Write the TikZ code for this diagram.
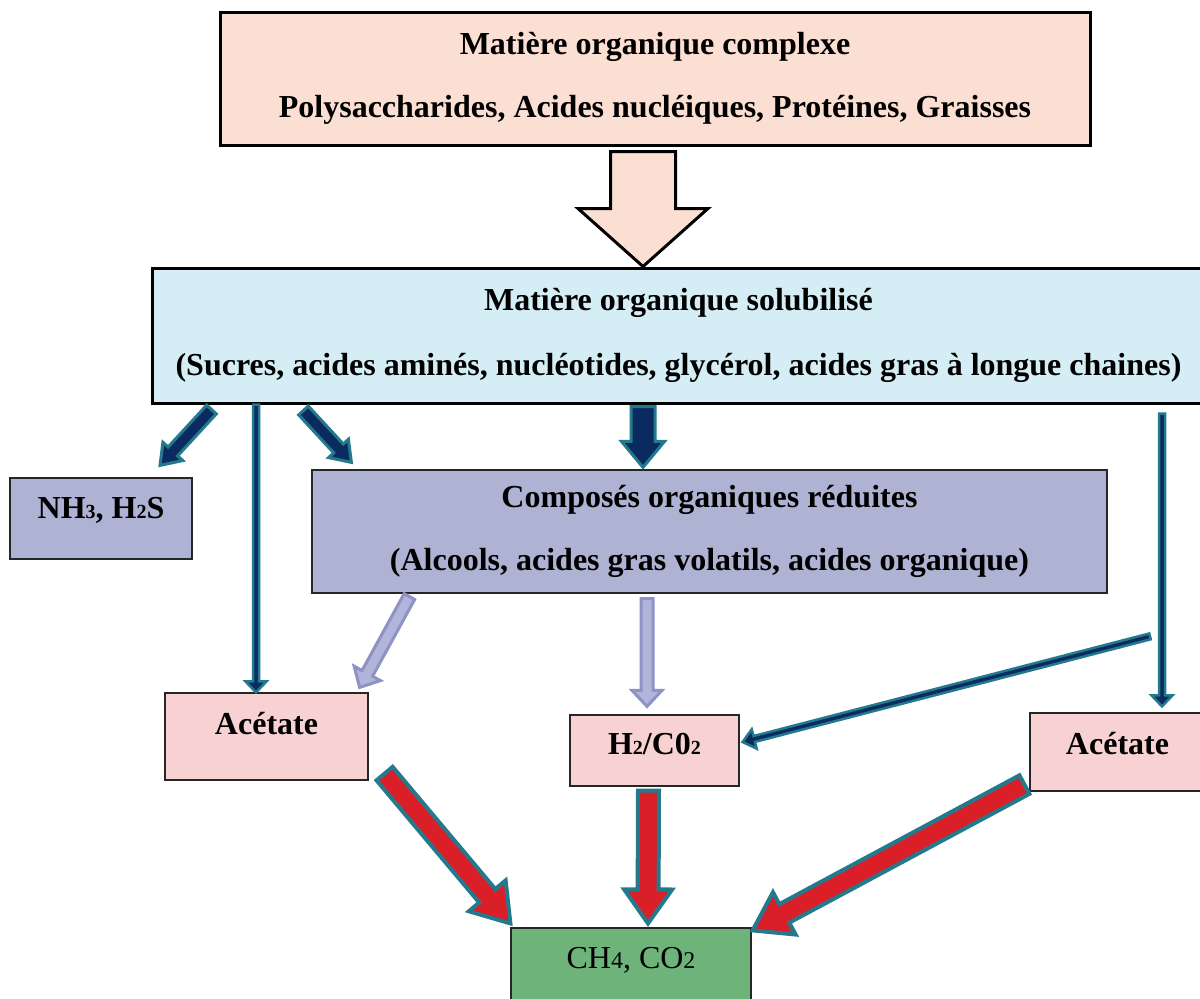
\documentclass[tikz,border=0pt]{standalone}
\usepackage{fontspec}
\setmainfont{Liberation Serif}
\usetikzlibrary{calc}

\definecolor{peach}{RGB}{251,223,210}
\definecolor{skyfill}{RGB}{213,238,245}
\definecolor{lavender}{RGB}{174,178,211}
\definecolor{rosefill}{RGB}{248,210,211}
\definecolor{gasgreen}{RGB}{109,179,122}
\definecolor{navy}{RGB}{11,42,96}
\definecolor{tealedge}{RGB}{35,122,140}
\definecolor{lilac}{RGB}{178,181,218}
\definecolor{lilacedge}{RGB}{142,146,196}
\definecolor{arrowred}{RGB}{218,31,40}

% small digits on the baseline (as in the original)
\newcommand\ind[1]{{\fontsize{20}{20}\selectfont #1}}

% block arrow: style, tail, tip, shaft half width, head half width, head length
\newcommand\blockarrow[6]{%
  \coordinate (hb) at ($(#3)!#6pt!(#2)$);
  \draw[#1] ($(#2)!#4pt!90:(#3)$) -- ($(hb)!#4pt!90:(#3)$) -- ($(hb)!#5pt!90:(#3)$)
    -- (#3) -- ($(hb)!#5pt!-90:(#3)$) -- ($(hb)!#4pt!-90:(#3)$) -- ($(#2)!#4pt!-90:(#3)$) -- cycle;
}

\begin{document}
\begin{tikzpicture}[
  x=1pt, y=-1pt,
  box/.style={draw=black!85, line width=1.2pt, inner sep=0pt, align=center,
    font=\bfseries\fontsize{32}{38}\selectfont},
  bigbox/.style={box, draw=black, line width=3pt},
  onebox/.style={box, text height=22pt},
  navyarrow/.style={draw=tealedge, fill=navy, line width=3pt, line join=miter},
  thinarrow/.style={draw=tealedge, fill=navy, line width=2.5pt, line join=miter},
  lilacarrow/.style={draw=lilacedge, fill=lilac, line width=3pt, line join=miter},
  redarrow/.style={draw=tealedge, fill=arrowred, line width=4pt, line join=miter}
]
\useasboundingbox (0,0) rectangle (1200,999);

% Boxes
\node[bigbox, fill=peach, minimum width=870, minimum height=133] (complexe) at (655,78.5)
  {Matière organique complexe\\[25pt] Polysaccharides, Acides nucléiques, Protéines, Graisses};
\node[bigbox, fill=skyfill, minimum width=1053, minimum height=135] (soluble) at (678.5,335.5)
  {Matière organique solubilisé\\[27pt] (Sucres, acides aminés, nucléotides, glycérol, acides gras à longue chaines)};
\node[onebox, fill=lavender, minimum width=182, minimum height=81, text depth=23pt] (gaz) at (101,518.5)
  {NH\ind{3}, H\ind{2}S};
\node[box, fill=lavender, minimum width=795, minimum height=123] (reduits) at (709.5,531.5)
  {Composés organiques réduites\\[25pt] (Alcools, acides gras volatils, acides organique)};
\node[onebox, fill=rosefill, minimum width=203, minimum height=87, text depth=27pt] (acetateA) at (266.5,736.5)
  {Acétate};
\node[onebox, fill=rosefill, minimum width=169, minimum height=71, text depth=14pt] (hydro) at (654.5,750.5)
  {H\ind{2}/C0\ind{2}};
\node[onebox, fill=rosefill, minimum width=175, minimum height=78, text depth=17pt] (acetateB) at (1117.5,752)
  {Acétate};
\node[onebox, fill=gasgreen, minimum width=240, minimum height=82, text depth=23pt,
  font=\fontsize{32}{38}\selectfont] (biogaz) at (631,969)
  {CH{\fontsize{24}{24}\selectfont 4}, CO{\fontsize{24}{24}\selectfont 2}};

% Hollow arrow between the two top boxes
\coordinate (hollowtail) at ($(complexe.south)+(-12,5)$);
\coordinate (hollowtip) at ($(soluble.north)+(-35.5,0)$);
\blockarrow{draw=black, fill=peach, line width=3pt, line join=miter}{hollowtail}{hollowtip}{32.5}{65}{58}

% Arrows leaving the solubilised matter
\coordinate (t1) at ($(soluble.south west)+(61,5)$);
\coordinate (h1) at ($(gaz.north)+(59,-12)$);
\blockarrow{navyarrow}{t1}{h1}{6.5}{13.5}{19}

\coordinate (h2) at ($(acetateA.north)+(-10.5,0)$);
\coordinate (t2) at (h2 |- soluble.south);
\blockarrow{thinarrow}{t2}{h2}{3}{10.5}{11}

\coordinate (t3) at ($(soluble.south west)+(153,6)$);
\coordinate (h3) at ($(reduits.north west)+(40,-7)$);
\blockarrow{navyarrow}{t3}{h3}{6.5}{13.5}{19}

\coordinate (h4) at ($(reduits.north)+(-66.5,-2)$);
\coordinate (t4) at ($(h4 |- soluble.south)+(0,2)$);
\blockarrow{navyarrow}{t4}{h4}{12}{21.5}{26}

\coordinate (h5) at ($(acetateB.north)+(44.5,-6)$);
\coordinate (t5) at ($(h5 |- soluble.south)+(0,9)$);
\blockarrow{thinarrow}{t5}{h5}{3}{10.5}{11}

\coordinate (t6) at ($(h5)+(-12,-70)$);
\coordinate (h6) at ($(hydro.east)+(3,-8.5)$);
\blockarrow{thinarrow}{t6}{h6}{3}{10}{12}

% Arrows leaving the reduced compounds
\coordinate (t7) at ($(reduits.south west)+(98,3)$);
\coordinate (h7) at ($(acetateA.north east)+(-9,-5)$);
\blockarrow{lilacarrow}{t7}{h7}{6}{15}{16}

\coordinate (h8) at ($(hydro.north)+(-7.5,-8)$);
\coordinate (t8) at ($(h8 |- reduits.south)+(0,5)$);
\blockarrow{lilacarrow}{t8}{h8}{6}{15}{16}

% Methanogenesis
\coordinate (t9) at ($(acetateA.south east)+(16,-7)$);
\coordinate (h9) at ($(biogaz.north west)+(0,-4)$);
\blockarrow{redarrow}{t9}{h9}{10.5}{24}{36}

\coordinate (t10) at ($(hydro.south)+(-6,4)$);
\coordinate (h10) at ($(biogaz.north)+(17,-4)$);
\blockarrow{redarrow}{t10}{h10}{10.5}{24}{34}

\coordinate (t11) at ($(acetateB.south west)+(-5,-7)$);
\coordinate (h11) at ($(biogaz.north east)+(1,3)$);
\blockarrow{redarrow}{t11}{h11}{10.5}{24}{36}

\end{tikzpicture}
\end{document}
